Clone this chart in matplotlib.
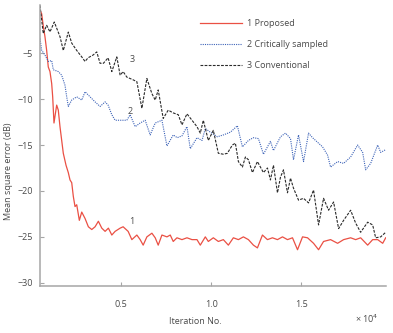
import numpy as np
import matplotlib
matplotlib.use('Agg')
from matplotlib import pyplot as plt
from matplotlib.ticker import FuncFormatter

## iterations and mean square error (dB)
it_prop = [490, 582, 671, 766, 860, 950, 1044, 1139, 1195, 1267, 1417, 1507,
           1601, 1696, 1785, 1936, 2063, 2158, 2253, 2342, 2436, 2531, 2676,
           2810, 2994, 3178, 3367, 3551, 3734, 3924, 4108, 4291, 4481, 4665,
           4943, 5110, 5388, 5595, 5873, 6057, 6224, 6430, 6709, 6893, 7060,
           7266, 7545, 7729, 7895, 8101, 8380, 8658, 8937, 9215, 9399, 9678,
           9845, 10123, 10402, 10680, 10959, 11237, 11516, 11794, 12073,
           12351, 12574, 12853, 13131, 13409, 13688, 13967, 14245, 14523,
           14802, 15081, 15359, 15693, 15972, 16250, 16640, 17030, 17364,
           17754, 18033, 18311, 18701, 18979, 19258, 19536, 19704]
mse_prop = [-0.33, -0.7, -2.0, -3.2, -4.7, -6.5, -7.0, -8.3, -9.75, -12.6,
            -10.65, -11.2, -13.0, -14.5, -15.9, -17.2, -18.0, -18.8, -19.1,
            -20.6, -21.7, -21.5, -23.2, -22.3, -23.0, -23.9, -24.2, -23.9,
            -23.3, -24.05, -24.4, -24.05, -24.8, -24.4, -24.05, -23.9, -24.4,
            -25.3, -24.8, -25.3, -25.9, -25.0, -24.6, -25.1, -25.9, -24.8,
            -25.0, -24.8, -25.5, -25.1, -25.3, -25.1, -25.3, -25.3, -25.9,
            -25.0, -25.5, -25.1, -25.5, -25.3, -25.9, -25.1, -25.3, -25.0,
            -25.3, -25.9, -26.2, -24.8, -25.3, -25.1, -25.3, -25.0, -25.3,
            -25.1, -26.4, -25.0, -25.1, -25.7, -26.4, -25.5, -25.3, -25.7,
            -25.3, -25.1, -25.3, -25.1, -25.9, -25.3, -25.3, -25.7, -25.1]

it_crit = [490, 582, 766, 950, 1139, 1228, 1507, 1696, 1880, 1974, 2063, 2253,
           2531, 2810, 2994, 3272, 3551, 3829, 4108, 4275, 4481, 4665, 4943,
           5316, 5500, 5779, 6057, 6336, 6614, 6893, 7266, 7545, 7895, 8118,
           8380, 8658, 8842, 9215, 9494, 9678, 9957, 10346, 10680, 11070,
           11460, 11739, 12073, 12351, 12630, 12908, 13298, 13465, 13855,
           14134, 14412, 14579, 14858, 15137, 15415, 15638, 15916, 16195,
           16473, 16640, 17030, 17364, 17754, 18144, 18422, 18590, 18868,
           19258, 19425, 19704]
mse_crit = [-3.4, -4.67, -5.2, -5.9, -5.8, -6.8, -7.0, -7.4, -8.5, -9.75,
            -10.8, -10.1, -9.75, -10.1, -9.2, -9.75, -10.3, -10.8, -10.3,
            -10.65, -11.7, -12.3, -12.3, -12.3, -11.7, -13.0, -12.6, -12.3,
            -13.9, -12.6, -12.3, -15.1, -13.9, -14.2, -14.0, -13.0, -15.4,
            -14.2, -14.5, -13.2, -13.6, -14.1, -13.9, -13.6, -12.9, -15.2,
            -14.5, -14.2, -14.3, -16.0, -14.6, -15.6, -14.1, -13.7, -14.3,
            -16.6, -13.9, -16.8, -13.7, -14.2, -14.7, -15.2, -16.1, -17.4,
            -16.8, -17.0, -16.3, -15.0, -15.8, -17.7, -17.0, -15.0, -15.8,
            -15.5]

it_conv = [490, 671, 860, 1044, 1284, 1601, 1785, 2063, 2253, 2531, 2810,
           2994, 3161, 3439, 3645, 3829, 4013, 4275, 4481, 4759, 4943, 5110,
           5316, 5667, 5873, 6152, 6430, 6709, 6893, 7060, 7338, 7617, 7895,
           8174, 8380, 8658, 8937, 9215, 9399, 9566, 9845, 10123, 10402,
           10680, 10903, 11181, 11349, 11516, 11739, 11906, 12073, 12296,
           12574, 12741, 12908, 13131, 13298, 13465, 13688, 13855, 14022,
           14245, 14412, 14579, 14858, 15137, 15415, 15693, 15972, 16250,
           16529, 16807, 17086, 17364, 17754, 18033, 18311, 18701, 18979,
           19146, 19425, 19704]
mse_conv = [0.2, -2.86, -1.96, -2.68, -1.6, -3.2, -4.7, -2.7, -3.9, -4.7,
            -5.4, -5.9, -5.5, -5.2, -4.86, -6.1, -6.1, -5.5, -7.0, -5.4,
            -7.4, -7.0, -7.6, -7.9, -8.1, -11.0, -7.75, -9.4, -10.1, -9.0,
            -12.1, -11.2, -11.5, -11.7, -12.8, -11.6, -12.3, -13.0, -13.7,
            -12.3, -14.5, -13.4, -15.9, -16.0, -15.9, -15.0, -14.8, -16.8,
            -17.4, -16.3, -16.6, -18.0, -16.8, -17.4, -18.0, -17.5, -18.8,
            -17.2, -20.2, -18.5, -17.7, -20.2, -18.6, -19.7, -21.0, -20.8,
            -21.3, -19.9, -23.7, -20.8, -22.1, -21.2, -24.1, -23.2, -22.1,
            -23.5, -24.5, -23.4, -23.7, -25.1, -25.0, -24.5]

labels = ['1 Proposed', '2 Critically sampled', '3 Conventional']
x_ticks = [5000, 10000, 15000]
y_ticks = [-5, -10, -15, -20, -25, -30]

gray = '#a6a6a6'
txt = '#4a4a4a'
plt.rcParams['font.family'] = ['Open Sans', 'DejaVu Sans']
plt.rcParams['font.size'] = 6.5

fig = plt.figure(figsize=(3.93, 3.33), dpi=100)
ax = fig.add_axes([40/393, 47/333, 346/393, 281/333])

ax.plot(it_prop, mse_prop, color='#ea5044', lw=0.9, label=labels[0])
ax.plot(it_crit, mse_crit, color='#3d63b8', lw=0.8, ls=(0, (1, 1)),
        label=labels[1])
ax.plot(it_conv, mse_conv, color='#2a2a2a', lw=0.8, ls=(0, (2.5, 1.2)),
        label=labels[2])

## curve numbers
ax.text(5450, -23.6, '1', color=txt, fontsize=6.5)
ax.text(5350, -11.6, '2', color=txt, fontsize=6.5)
ax.text(5450, -6.0, '3', color=txt, fontsize=6.5)

ax.set_xlim(490, 19720)
ax.set_ylim(-30.35, 0.25)
ax.set_xticks(x_ticks)
ax.set_yticks(y_ticks)
ax.xaxis.set_major_formatter(FuncFormatter(lambda v, p: '%.1f' % (v/1e4)))
ax.yaxis.set_major_formatter(FuncFormatter(lambda v, p: '\u2212%d' % -v))

for side in ['top', 'right']:
    ax.spines[side].set_visible(False)
for side in ['left', 'bottom']:
    ax.spines[side].set_color(gray)
    ax.spines[side].set_linewidth(1.1)
ax.tick_params(axis='both', direction='in', length=3, width=0.8,
               color=gray, labelcolor=txt, labelsize=6.5)
ax.tick_params(axis='x', pad=10)
ax.tick_params(axis='y', pad=5)

ax.set_xlabel('Iteration No.', color=txt, fontsize=6.5)
ax.xaxis.set_label_coords(0.45, -0.112)
ax.set_ylabel('Mean square error (dB)', color=txt, fontsize=6.5)
ax.yaxis.set_label_coords(-0.077, 0.41)
ax.text(0.91, -0.13, '\u00d7 10$^4$', transform=ax.transAxes, color=txt,
        fontsize=6.5)

leg = ax.legend(loc='upper left', bbox_to_anchor=(0.44, 0.978), frameon=False,
                handlelength=4.6, handletextpad=0.6, labelspacing=1.3,
                fontsize=6.5)
for t in leg.get_texts():
    t.set_color(txt)

fig.savefig('out.png', dpi=100)
